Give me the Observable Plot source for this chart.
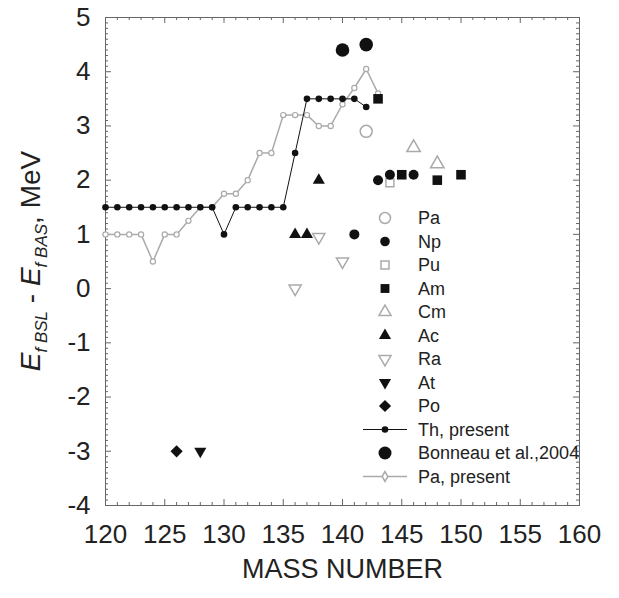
<!DOCTYPE html>
<html>
<head>
<meta charset="utf-8">
<script src="https://cdn.jsdelivr.net/npm/d3@7"></script>
<script src="https://cdn.jsdelivr.net/npm/@observablehq/plot@0.6"></script>
<style>
  body { margin: 0; background: #fff; }
</style>
</head>
<body>
<div id="chart"></div>
<script>
// Th, present (calculated)
const thMass = [120,121,122,123,124,125,126,127,128,129,130,131,132,133,134,135,136,137,138,139,140,141,142];
const thE    = [1.5,1.5,1.5,1.5,1.5,1.5,1.5,1.5,1.5,1.5,1.0,1.5,1.5,1.5,1.5,1.5,2.5,3.5,3.5,3.5,3.5,3.5,3.35];
// Pa, present (calculated)
const paPresMass = [120,121,122,123,124,125,126,127,128,129,130,131,132,133,134,135,136,137,138,139,140,141,142,143];
const paPresE    = [1.0,1.0,1.0,1.0,0.5,1.0,1.0,1.25,1.5,1.5,1.75,1.75,2.0,2.5,2.5,3.2,3.2,3.2,3.0,3.0,3.4,3.7,4.05,3.6];
// Empirical values by element
const paMass = [142];               const paE = [2.9];
const npMass = [141,143,144,146];   const npE = [1.0,2.0,2.1,2.1];
const puMass = [144];               const puE = [1.95];
const amMass = [143,145,148,150];   const amE = [3.5,2.1,2.0,2.1];
const cmMass = [146,148];           const cmE = [2.6,2.3];
const acMass = [136,137,138];       const acE = [1.0,1.0,2.0];
const raMass = [136,138,140];       const raE = [0.0,0.95,0.5];
const atMass = [128];               const atE = [-3];
const poMass = [126];               const poE = [-3];
// Bonneau et al., 2004
const bonMass = [140,142];          const bonE = [4.4,4.5];

const xTicks = [120,125,130,135,140,145,150,155,160];
const yTicks = [-4,-3,-2,-1,0,1,2,3,4,5];
const legendLabels = ["Pa","Np","Pu","Am","Cm","Ac","Ra","At","Po","Th, present","Bonneau et al.,2004","Pa, present"];

const pts = (m, e) => m.map((d, i) => ({m: d, e: e[i]}));

const W = 619, H = 598;
const mL = 105, mR = 40, mT = 17, mB = 93;
const innerW = W - mL - mR, innerH = H - mT - mB;
const GRAY = "#aaa", INK = "#111", AXIS = "#666";
const FONT = "'Liberation Sans', Arial, Helvetica, sans-serif";

const sqrt3 = Math.sqrt(3);
const triangleDown = {
  draw(ctx, size) {
    const y = -Math.sqrt(size / (sqrt3 * 3));
    ctx.moveTo(0, -y * 2);
    ctx.lineTo(-sqrt3 * y, y);
    ctx.lineTo(sqrt3 * y, y);
    ctx.closePath();
  }
};

const xMinor = d3.range(121, 160).filter(v => v % 5 !== 0);
const yMinor = d3.range(-40, 51).map(v => v / 10).filter(v => Math.abs(v - Math.round(v)) > 1e-9);

const chart = Plot.plot({
  width: W, height: H,
  marginLeft: mL, marginRight: mR, marginTop: mT, marginBottom: mB,
  x: {domain: [120, 160]},
  y: {domain: [-4, 5]},
  style: {fontFamily: FONT, fontSize: "26px", color: "#222", background: "#fff"},
  marks: [
    // inward ticks on all four sides
    Plot.tickX(xMinor, {x: d => d, stroke: AXIS, insetTop: innerH - 3}),
    Plot.tickX(xMinor, {x: d => d, stroke: AXIS, insetBottom: innerH - 3}),
    Plot.tickX(xTicks, {x: d => d, stroke: AXIS, insetTop: innerH - 6}),
    Plot.tickX(xTicks, {x: d => d, stroke: AXIS, insetBottom: innerH - 6}),
    Plot.tickY(yMinor, {y: d => d, stroke: AXIS, insetRight: innerW - 3}),
    Plot.tickY(yMinor, {y: d => d, stroke: AXIS, insetLeft: innerW - 3}),
    Plot.tickY(yTicks, {y: d => d, stroke: AXIS, insetRight: innerW - 6}),
    Plot.tickY(yTicks, {y: d => d, stroke: AXIS, insetLeft: innerW - 6}),
    Plot.frame({stroke: AXIS}),
    Plot.axisX(xTicks, {tickSize: 0, tickPadding: 19, label: null, fontSize: 26, tickFormat: d => String(d)}),
    Plot.axisY(yTicks, {tickSize: 0, tickPadding: 15, label: null, fontSize: 26, tickFormat: d => String(d)}),
    Plot.text(["MASS NUMBER"], {frameAnchor: "bottom", dy: 72, fontSize: 27, fill: "#222"}),

    // Pa, present
    Plot.line(pts(paPresMass, paPresE), {x: "m", y: "e", stroke: GRAY, strokeWidth: 1.5}),
    Plot.dot(pts(paPresMass, paPresE), {x: "m", y: "e", r: 2.6, stroke: GRAY, fill: "white", strokeWidth: 1.2}),
    // Th, present
    Plot.line(pts(thMass, thE), {x: "m", y: "e", stroke: INK, strokeWidth: 1}),
    Plot.dot(pts(thMass, thE), {x: "m", y: "e", r: 3.3, fill: INK}),

    // empirical points
    Plot.dot(pts(paMass, paE), {x: "m", y: "e", r: 6, stroke: GRAY, fill: "white", strokeWidth: 1.5}),
    Plot.dot(pts(puMass, puE), {x: "m", y: "e", symbol: "square", r: 4.5, stroke: GRAY, fill: "white", strokeWidth: 1.5}),
    Plot.dot(pts(cmMass, cmE), {x: "m", y: "e", symbol: "triangle", r: 5, stroke: GRAY, fill: "white", strokeWidth: 1.5}),
    Plot.dot(pts(raMass, raE), {x: "m", y: "e", symbol: triangleDown, r: 4.5, stroke: GRAY, fill: "white", strokeWidth: 1.5}),
    Plot.dot(pts(npMass, npE), {x: "m", y: "e", r: 5, fill: INK}),
    Plot.dot(pts(amMass, amE), {x: "m", y: "e", symbol: "square", r: 5.4, fill: INK}),
    Plot.dot(pts(acMass, acE), {x: "m", y: "e", symbol: "triangle", r: 4.5, fill: INK}),
    Plot.dot(pts(atMass, atE), {x: "m", y: "e", symbol: triangleDown, r: 4.5, fill: INK}),
    Plot.dot(pts(poMass, poE), {x: "m", y: "e", symbol: "diamond2", r: 5.5, fill: INK}),
    Plot.dot(pts(bonMass, bonE), {x: "m", y: "e", r: 6.8, fill: INK})
  ]
});

document.getElementById("chart").appendChild(chart);

// y axis title with subscripts
const svg = d3.select(chart);
const yScale = chart.scale("y");
const yMid = (yScale.apply(5) + yScale.apply(-4)) / 2;
const yt = svg.append("text")
  .attr("transform", `translate(40,${yMid}) rotate(-90)`)
  .attr("text-anchor", "middle")
  .attr("font-family", FONT)
  .attr("font-size", 28)
  .attr("fill", "#222");
yt.append("tspan").attr("font-style", "italic").text("E");
yt.append("tspan").attr("font-style", "italic").attr("font-size", 17).attr("dy", 7).text("f BSL");
yt.append("tspan").attr("dy", -7).text(" - ");
yt.append("tspan").attr("font-style", "italic").text("E");
yt.append("tspan").attr("font-style", "italic").attr("font-size", 17).attr("dy", 7).text("f BAS");
yt.append("tspan").attr("dy", -7).text(", MeV");

// legend
const lg = svg.append("g")
  .attr("font-family", FONT)
  .attr("font-size", 18)
  .attr("fill", "#222")
  .attr("text-anchor", "start");
const symX = 385, textX = 418, row0 = 218, rowStep = 23.5;
const area = r => Math.PI * r * r;
const legendSymbols = [
  {type: d3.symbolCircle, r: 5.5, fill: "white", stroke: GRAY},
  {type: d3.symbolCircle, r: 4.8, fill: INK},
  {type: d3.symbolSquare, r: 4.5, fill: "white", stroke: GRAY},
  {type: d3.symbolSquare, r: 5, fill: INK},
  {type: d3.symbolTriangle, r: 4.5, fill: "white", stroke: GRAY},
  {type: d3.symbolTriangle, r: 4.5, fill: INK},
  {type: triangleDown, r: 4.5, fill: "white", stroke: GRAY},
  {type: triangleDown, r: 4.5, fill: INK},
  {type: d3.symbolDiamond2, r: 5.5, fill: INK},
  {type: d3.symbolCircle, r: 3.3, fill: INK, line: INK},
  {type: d3.symbolCircle, r: 6.5, fill: INK},
  {type: d3.symbolDiamond, r: 3, fill: "white", stroke: GRAY, line: GRAY}
];
legendLabels.forEach((label, i) => {
  const y = row0 + i * rowStep;
  const s = legendSymbols[i];
  if (s.line) {
    lg.append("line").attr("x1", symX - 22).attr("x2", symX + 22).attr("y1", y).attr("y2", y)
      .attr("stroke", s.line).attr("stroke-width", s.line === GRAY ? 1.5 : 1);
  }
  lg.append("path")
    .attr("transform", `translate(${symX},${y})`)
    .attr("d", d3.symbol(s.type, area(s.r))())
    .attr("fill", s.fill)
    .attr("stroke", s.stroke || "none")
    .attr("stroke-width", 1.5);
  lg.append("text").attr("x", textX).attr("y", y).attr("dy", "0.35em").text(label);
});
</script>
</body>
</html>
